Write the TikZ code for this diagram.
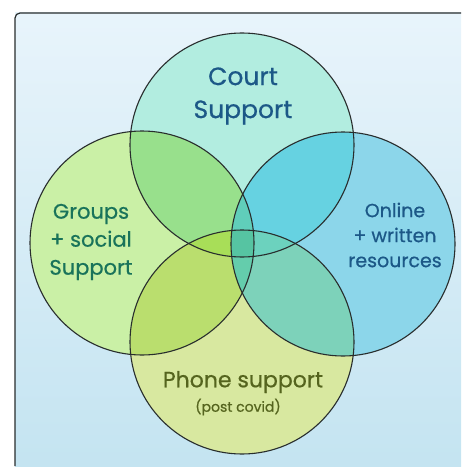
\documentclass[tikz,border=0pt]{standalone}
\usepackage{fontspec}
\setmainfont{Poppins}
\newfontfamily\hand{Poppins}[FakeBold=0.6]
\definecolor{bgtop}{RGB}{232,244,251}
\definecolor{bgbot}{RGB}{196,228,241}
\definecolor{cT}{RGB}{178,237,224}
\definecolor{cL}{RGB}{202,240,166}
\definecolor{cR}{RGB}{140,214,234}
\definecolor{cB}{RGB}{216,232,160}
\definecolor{cTL}{RGB}{152,224,140}
\definecolor{cTR}{RGB}{102,210,225}
\definecolor{cLB}{RGB}{186,222,110}
\definecolor{cRB}{RGB}{125,210,186}
\definecolor{cTLB}{RGB}{168,222,88}
\definecolor{cTRB}{RGB}{108,210,190}
\definecolor{cTLR}{RGB}{96,206,186}
\definecolor{cLRB}{RGB}{100,205,172}
\definecolor{cAll}{RGB}{86,196,162}
\definecolor{ink}{RGB}{40,45,45}
\definecolor{bluetext}{RGB}{28,88,135}
\definecolor{greentext}{RGB}{25,115,90}
\definecolor{olivetext}{RGB}{85,100,30}
\tikzset{
  venn/.style={circle, minimum size=224pt, inner sep=0pt},
  rim/.style={draw=ink, line width=1.1pt},
  lbl/.style={align=center},
}
\begin{document}
\begin{tikzpicture}[x=1pt,y=-1pt]
\useasboundingbox (0,0) rectangle (461,468);
\fill[white] (0,0) rectangle (461,468);
\shade[top color=bgtop, bottom color=bgbot] (15,13) rectangle (461,466);
\draw[ink, line width=1.2pt, rounded corners=5pt] (15,466) -- (15,13) -- (461,13);
% circles
\node[venn, fill=cT] (court) at (242,145) {};
\node[venn, fill=cL] (groups) at (142,243) {};
\node[venn, fill=cR] (online) at (343,244) {};
\node[venn, fill=cB] (phone) at (242,342) {};
\def\cT{(court.center) circle[radius=112]}
\def\cL{(groups.center) circle[radius=112]}
\def\cR{(online.center) circle[radius=112]}
\def\cB{(phone.center) circle[radius=112]}
% pairs
\begin{scope}\clip \cT; \fill[cTL] \cL; \fill[cTR] \cR; \end{scope}
\begin{scope}\clip \cB; \fill[cLB] \cL; \fill[cRB] \cR; \end{scope}
% triples
\begin{scope}\clip \cT; \clip \cB; \fill[cTLB] \cL; \fill[cTRB] \cR; \end{scope}
\begin{scope}\clip \cL; \clip \cR; \fill[cTLR] \cT; \fill[cLRB] \cB; \end{scope}
% all four
\begin{scope}\clip \cL; \clip \cR; \clip \cT; \fill[cAll] \cB; \end{scope}
\draw[rim] \cT;
\draw[rim] \cL;
\draw[rim] \cR;
\draw[rim] \cB;
% labels
\node[lbl, text=bluetext, font=\hand\fontsize{25}{33}\selectfont] (tcourt) at (243,96) {Court\\Support};
\node[lbl, text=greentext, font=\hand\fontsize{21}{28}\selectfont] (tgroups) at (91,242) {Groups\\+ social\\Support};
\node[lbl, text=bluetext, font=\hand\fontsize{19}{25}\selectfont] (tonline) at (395,235) {Online\\+ written\\resources};
\node[lbl, text=olivetext, font=\hand\fontsize{22}{26}\selectfont] (tphone) at (243,382) {Phone support};
\node[lbl, text=olivetext, font=\hand\fontsize{14}{16}\selectfont] (tcovid) at (238,407) {(post covid)};
\end{tikzpicture}
\end{document}
